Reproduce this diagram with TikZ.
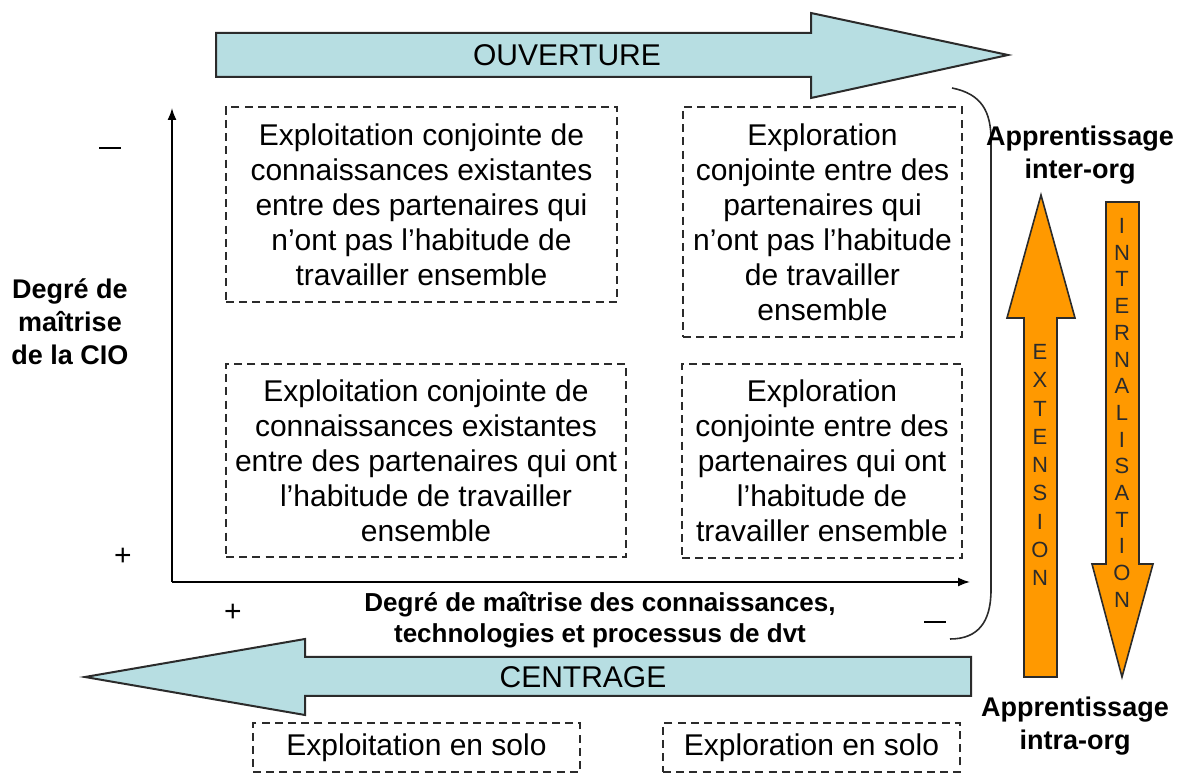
\documentclass[tikz,border=0pt]{standalone}
\usepackage{fontspec}
\setmainfont{Liberation Sans}
\usepackage{tikz}
\usetikzlibrary{arrows.meta,positioning}
\definecolor{lblue}{HTML}{B7DEE2}
\definecolor{orng}{HTML}{FF9900}
\definecolor{edge}{HTML}{2B2B2B}

\begin{document}
\begin{tikzpicture}[x=0.5pt,y=-0.5pt,
  qbox/.style={draw=edge,dash pattern=on 4pt off 2.6pt,line width=1pt,align=center,
    inner sep=0pt,font=\fontsize{15}{17.5}\selectfont},
  bigarr/.style={fill=lblue,draw=edge,line width=1pt,line join=miter},
  orarr/.style={fill=orng,draw=edge,line width=0.8pt,line join=miter},
  lbl/.style={align=center,font=\fontsize{13.5}{16.5}\selectfont\bfseries},
  sgn/.style={font=\fontsize{15}{17}\selectfont},
  vletter/.style={inner sep=0pt,font=\fontsize{11}{11}\selectfont,text=edge},
  axis/.style={line width=0.8pt,-{Latex[length=6pt,width=4.5pt]}}]
  \useasboundingbox (0,0) rectangle (1179,774);

  % the two horizontal block arrows
  \draw[bigarr] (216,33) -- (811,33) -- (811,13) -- (1008,55) -- (811,98) -- (811,77) -- (216,77) -- cycle;
  \node[font=\fontsize{15}{17}\selectfont] (ouv) at (567,55) {OUVERTURE};
  \draw[bigarr] (971,657) -- (305,657) -- (305,639) -- (85,677) -- (305,715) -- (305,696) -- (971,696) -- cycle;
  \node[font=\fontsize{15}{17}\selectfont] (cent) at (583,677) {CENTRAGE};

  % axes
  \coordinate (orig) at (172,582);
  \coordinate (ytop) at (172,108);
  \coordinate (xend) at (970,582);
  \draw[axis] (orig) -- (ytop);
  \draw[axis] (orig) -- (xend);

  % quadrants
  \node[qbox,minimum width=195.5pt,minimum height=97.5pt] (tl) at (421.5,204.5)
    {Exploitation conjointe de\\connaissances existantes\\entre des partenaires qui\\n’ont pas l’habitude de\\travailler ensemble};
  \node[qbox,minimum width=139.5pt,minimum height=115pt] (tr) at (822.5,222)
    {Exploration\\conjointe entre des\\partenaires qui\\n’ont pas l’habitude\\de travailler\\ensemble};
  \node[qbox,minimum width=200pt,minimum height=96.5pt] (bl) at (426,460.5)
    {Exploitation conjointe de\\connaissances existantes\\entre des partenaires qui ont\\l’habitude de travailler\\ensemble};
  \node[qbox,minimum width=140pt,minimum height=97pt] (br) at (822,461)
    {Exploration\\conjointe entre des\\partenaires qui ont\\l’habitude de\\travailler ensemble};
  \node[qbox,minimum width=163.5pt,minimum height=24.5pt] (sololeft) at (416.5,747.5) {Exploitation en solo};
  \node[qbox,minimum width=148.5pt,minimum height=24.5pt] (soloright) at (811.5,747.5) {Exploration en solo};

  % axis labels and signs
  \node[lbl] (ylab) at (70,322) {Degré de\\maîtrise\\de la CIO};
  \node[lbl,font=\fontsize{13}{15.5}\selectfont\bfseries] (xlab) at (600,620)
    {Degré de maîtrise des connaissances,\\technologies et processus de dvt};
  \node[sgn] (ymin) at (110,148) {\rule{11pt}{1pt}};
  \node[sgn] (yplus) at (123,557) {+};
  \node[sgn] (xplus) at (233,613) {+};
  \node[sgn] (xmin) at (935,622) {\rule{11pt}{1pt}};

  % bracket on the right side
  \draw[line width=0.8pt,edge] (952,88) .. controls (982,94) and (991,112) .. (991,140)
    -- (991,590) .. controls (991,622) and (978,639) .. (950,639);

  % learning arrows
  \draw[orarr] (1024,677) -- (1024,318) -- (1007,318) -- (1041,195) -- (1075,318) -- (1057,318) -- (1057,677) -- cycle;
  \draw[orarr] (1106,202) -- (1106,564) -- (1092,564) -- (1122,677) -- (1153,564) -- (1139,564) -- (1139,202) -- cycle;
  \foreach \ch [count=\i from 0] in {E,X,T,E,N,S,I,O,N}
    \node[vletter] (ext\i) at (1040,{352+\i*28.25}) {\ch};
  \foreach \ch [count=\i from 0] in {I,N,T,E,R,N,A,L,I,S,A,T,I,O,N}
    \node[vletter] (int\i) at (1122,{226+\i*26.7}) {\ch};
  \node[lbl] (inter) at (1080,155) {Apprentissage\\inter-org};
  \node[lbl] (intra) at (1075,726) {Apprentissage\\intra-org};
\end{tikzpicture}
\end{document}
